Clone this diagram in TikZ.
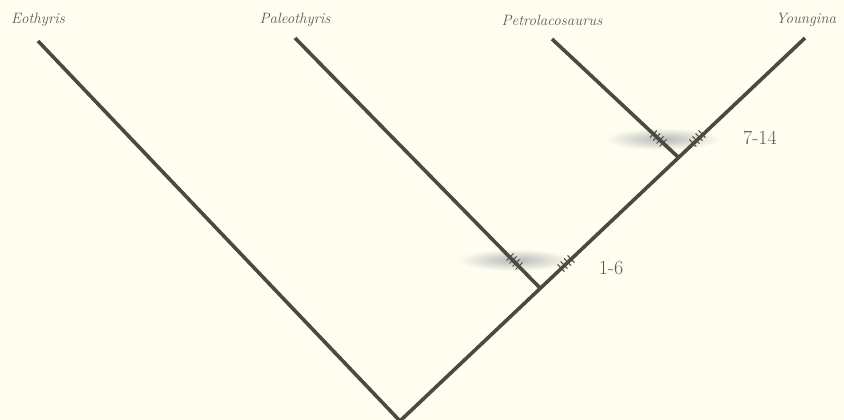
\documentclass[tikz,border=0pt]{standalone}
\definecolor{bg}{HTML}{FEFEF0}
\definecolor{ln}{HTML}{4C4A40}
\definecolor{tx}{HTML}{5C5B52}
\begin{document}
\begin{tikzpicture}[x=1pt,y=-1pt,
  branch/.style={draw=ln, line width=3.6pt},
  hatch/.style={draw=ln, line width=1pt},
  taxon/.style={font=\fontsize{15}{15}\selectfont\itshape, text=tx, inner sep=0pt},
  charlbl/.style={font=\fontsize{20}{20}\selectfont, text=tx, inner sep=0pt}]
\fill[bg] (0,0) rectangle (844,420);
\useasboundingbox (0,0) rectangle (844,420);
% blurred grey patches
\shade[inner color=black!28, outer color=bg] (515,260) ellipse (58 and 11);
\shade[inner color=black!28, outer color=bg] (662,139) ellipse (58 and 11);
% coordinates
\coordinate (root) at (400,421);
\coordinate (n1) at (540,288);
\coordinate (n2) at (678,157);
\coordinate (teo) at (38,41);
\coordinate (tpa) at (295,38);
\coordinate (tpe) at (552,39);
\coordinate (tyo) at (805,38);
% labels
\node[taxon] (leo) at (38,20) {Eothyris};
\node[taxon] (lpa) at (295,20) {Paleothyris};
\node[taxon] (lpe) at (552,20) {Petrolacosaurus};
\node[taxon] (lyo) at (806,20) {Youngina};
\node[charlbl] (c1) at (611,268) {1-6};
\node[charlbl] (c2) at (760,138) {7-14};
% branches
\draw[branch] (root) -- (teo);
\draw[branch] (root) -- (tyo);
\draw[branch] (n1) -- (tpa);
\draw[branch] (n2) -- (tpe);
% hatches
\foreach \px/\py in {519/266,516/263,513/260,510/257}
  \draw[hatch] (\px-3.5,\py+3.5) -- (\px+3.5,\py-3.5);
\foreach \px/\py in {561/268,564/265,567.5/262,571/259}
  \draw[hatch] (\px-3.4,\py-3.6) -- (\px+3.4,\py+3.6);
\foreach \px/\py in {663/143,660/140,656.6/137,653.4/134}
  \draw[hatch] (\px-3.5,\py+3.5) -- (\px+3.5,\py-3.5);
\foreach \px/\py in {692.8/143,696/140,699/137,702/134}
  \draw[hatch] (\px-3.4,\py-3.6) -- (\px+3.4,\py+3.6);
\end{tikzpicture}
\end{document}
